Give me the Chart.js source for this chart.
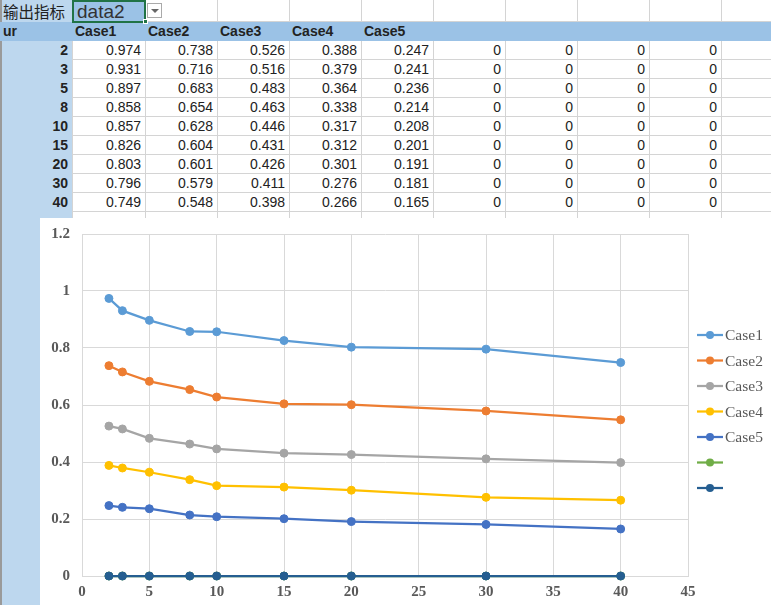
<!DOCTYPE html>
<html>
<head>
<meta charset="utf-8">
<script src="https://cdn.jsdelivr.net/npm/chart.js@4/dist/chart.umd.min.js"></script>
<style>
  html, body { margin:0; padding:0; background:#fff; }
  #page { position:relative; width:771px; height:605px; overflow:hidden; background:#fff; font-family:"Liberation Sans", Arial, sans-serif; }
  .cell { position:absolute; box-sizing:border-box; font-size:14px; line-height:19px; color:#222; white-space:nowrap; }
  .num { text-align:right; padding-right:4px; }
  .hdr { font-weight:bold; padding-left:3px; }
  .vl { position:absolute; width:1px; background:#d4d4d4; }
  .hl { position:absolute; height:1px; background:#d4d4d4; }
  #chartBox { position:absolute; left:40px; top:218px; width:731px; height:387px; background:#fff; }
  canvas { display:block; }
</style>
</head>
<body>
<div id="page">
  <div id="sheet"></div>
  <div id="chartBox"><canvas id="c" width="731" height="387"></canvas></div>
</div>
<script>
// ---- data ----
const indicatorLabel = '输出指标';
const selectedData = 'data2';
const xHeader = 'ur';
const xValues = [2, 3, 5, 8, 10, 15, 20, 30, 40];
const seriesNames = ['Case1', 'Case2', 'Case3', 'Case4', 'Case5'];
const case1 = [0.974, 0.931, 0.897, 0.858, 0.857, 0.826, 0.803, 0.796, 0.749];
const case2 = [0.738, 0.716, 0.683, 0.654, 0.628, 0.604, 0.601, 0.579, 0.548];
const case3 = [0.526, 0.516, 0.483, 0.463, 0.446, 0.431, 0.426, 0.411, 0.398];
const case4 = [0.388, 0.379, 0.364, 0.338, 0.317, 0.312, 0.301, 0.276, 0.266];
const case5 = [0.247, 0.241, 0.236, 0.214, 0.208, 0.201, 0.191, 0.181, 0.165];
const zeroCol1 = [0, 0, 0, 0, 0, 0, 0, 0, 0];
const zeroCol2 = [0, 0, 0, 0, 0, 0, 0, 0, 0];
const zeroCol3 = [0, 0, 0, 0, 0, 0, 0, 0, 0];
const zeroCol4 = [0, 0, 0, 0, 0, 0, 0, 0, 0];
const yTicks = [0, 0.2, 0.4, 0.6, 0.8, 1, 1.2];
const xTicks = [0, 5, 10, 15, 20, 25, 30, 35, 40, 45];

// ---- spreadsheet ----
const sheet = document.getElementById('sheet');
function add(cls, style, text) {
  const d = document.createElement('div');
  d.className = cls;
  Object.assign(d.style, style);
  if (text !== undefined) d.textContent = text;
  sheet.appendChild(d);
  return d;
}
const colEdges = [0, 72, 145, 217, 289, 361, 433, 505, 577, 649, 721, 793];
const rowTops = [0, 22, 41, 60, 79, 98, 117, 136, 155, 174, 193, 212, 231];
// backgrounds
add('cell', {left:'0px', top:'0px', width:'72px', height:'605px', background:'#bdd7ee'});
add('cell', {left:'0px', top:'0px', width:'2px', height:'605px', background:'#9a9a9a'});
add('cell', {left:'0px', top:'22px', width:'771px', height:'19px', background:'#9bc2e6'});
// grid lines (white area)
for (let c = 2; c < colEdges.length - 1; c++) {
  add('vl', {left:(colEdges[c]) + 'px', top:'0px', height:'22px'});
}
for (let c = 1; c < colEdges.length - 1; c++) {
  add('vl', {left:(colEdges[c]) + 'px', top:'41px', height:'190px'});
}
add('hl', {left:'145px', top:'21px', width:'626px'});
for (let r = 3; r < rowTops.length; r++) {
  add('hl', {left:'72px', top:(rowTops[r] - 1) + 'px', width:'699px'});
}
// top row
add('cell', {left:'3px', top:'0px', height:'22px', lineHeight:'23px', fontFamily:'"Noto Sans CJK SC", sans-serif', fontSize:'15.5px', color:'#222'}, indicatorLabel);
add('cell', {left:'72px', top:'0px', width:'74px', height:'23px', background:'#9bc2e6', border:'2px solid #217346', lineHeight:'20px', fontSize:'19px', color:'#333', paddingLeft:'3px'}, selectedData);
add('cell', {left:'143px', top:'19px', width:'5px', height:'5px', background:'#217346', border:'1px solid #fff'});
const dd = add('cell', {left:'147px', top:'3px', width:'15px', height:'15px', background:'#fff', border:'1px solid #aaa'});
dd.innerHTML = '<div style="position:absolute;left:3px;top:5px;width:0;height:0;border-left:4px solid transparent;border-right:4px solid transparent;border-top:4px solid #666"></div>';
// header row
add('cell hdr', {left:'0px', top:'22px', height:'19px'}, xHeader);
seriesNames.forEach((n, i) => add('cell hdr', {left:colEdges[i + 1] + 'px', top:'22px', height:'19px'}, n));
// data rows
const tableCols = [case1, case2, case3, case4, case5, zeroCol1, zeroCol2, zeroCol3, zeroCol4];
xValues.forEach((xv, r) => {
  const top = rowTops[r + 2];
  add('cell num', {left:'0px', top:top + 'px', width:'72px', height:'19px', fontWeight:'bold'}, String(xv));
  tableCols.forEach((col, c) => {
    add('cell num', {left:colEdges[c + 1] + 'px', top:top + 'px', width:(colEdges[c + 2] - colEdges[c + 1]) + 'px', height:'19px'}, String(col[r]));
  });
});

// ---- chart ----
const colors = ['#5b9bd5', '#ed7d31', '#a5a5a5', '#ffc000', '#4472c4', '#70ad47', '#255e91'];
const seriesData = [case1, case2, case3, case4, case5, zeroCol1, zeroCol2];
const labels = [...seriesNames, '', ''];
const datasets = seriesData.map((arr, i) => ({
  label: labels[i],
  data: xValues.map((x, j) => ({x: x, y: arr[j]})),
  borderColor: colors[i],
  backgroundColor: colors[i],
  pointBackgroundColor: colors[i],
  pointBorderColor: colors[i],
  borderWidth: 2.25,
  pointRadius: 4,
  pointBorderWidth: 1,
  tension: 0,
  clip: false,
  order: seriesData.length - i
}));

const tickFont = {family:'"Liberation Serif", "Times New Roman", serif', size:15, weight:'bold'};
const legendPlugin = {
  id: 'xlLegend',
  afterDraw(chart) {
    const ctx = chart.ctx;
    const area = chart.chartArea;
    const lx = area.right + 9;
    const y0 = area.top + 101;
    ctx.save();
    chart.data.datasets.forEach((ds, i) => {
      const y = y0 + i * 25.5;
      ctx.strokeStyle = ds.borderColor;
      ctx.lineWidth = 2.25;
      ctx.beginPath();
      ctx.moveTo(lx, y);
      ctx.lineTo(lx + 26, y);
      ctx.stroke();
      ctx.fillStyle = ds.borderColor;
      ctx.beginPath();
      ctx.arc(lx + 13, y, 4, 0, Math.PI * 2);
      ctx.fill();
      ctx.fillStyle = '#595959';
      ctx.font = '15.5px "Liberation Serif", "Times New Roman", serif';
      ctx.textBaseline = 'middle';
      ctx.textAlign = 'left';
      ctx.fillText(ds.label, lx + 28, y + 1);
    });
    ctx.restore();
  }
};

new Chart(document.getElementById('c'), {
  type: 'line',
  data: { datasets },
  plugins: [legendPlugin],
  options: {
    responsive: false,
    animation: false,
    devicePixelRatio: 1,
    layout: { padding: { top: 16, right: 83, left: 0, bottom: 0 } },
    plugins: { legend: { display: false }, tooltip: { enabled: false } },
    scales: {
      x: {
        type: 'linear', min: 0, max: 45,
        afterBuildTicks: s => { s.ticks = xTicks.map(v => ({value: v})); },
        ticks: { padding: 7, color: '#595959', font: tickFont, maxRotation: 0 },
        grid: { color: '#d9d9d9', drawTicks: false },
        border: { color: '#d9d9d9' },
        afterFit: s => { s.height = 29; }
      },
      y: {
        min: 0, max: 1.2,
        afterBuildTicks: s => { s.ticks = yTicks.map(v => ({value: v})); },
        ticks: { padding: 0, color: '#595959', font: tickFont, callback: v => String(parseFloat(Number(v).toFixed(1))) },
        grid: { color: '#d9d9d9', drawTicks: true, tickLength: 12, tickColor: 'rgba(0,0,0,0)' },
        border: { color: '#d9d9d9' },
        afterFit: s => { s.width = 42; }
      }
    }
  }
});
</script>
</body>
</html>
